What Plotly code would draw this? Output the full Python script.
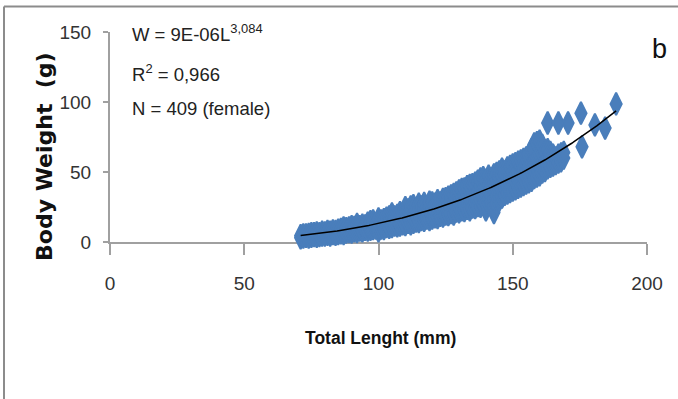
import numpy as np
import plotly.graph_objects as go

# ---- data (total length mm, body weight g) ----
length_mm = [
    71, 71, 72, 72, 73, 73, 74, 74, 75, 75, 76, 76, 77, 77, 77, 78, 78, 79, 79, 80, 80,
    81, 81, 82, 82, 83, 83, 84, 84, 85, 85, 86, 86, 87, 87, 87, 88, 88, 89, 89,
    90, 90, 90, 91, 91, 92, 92, 92, 93, 93, 94, 94, 94, 95, 95, 96, 96, 96,
    97, 97, 97, 98, 98, 98, 99, 99, 100, 100, 100, 100, 101, 101, 101,
    102, 102, 102, 103, 103, 103, 104, 104, 104, 105, 105, 105, 105,
    106, 106, 106, 107, 107, 107, 108, 108, 108, 109, 109, 109,
    110, 110, 110, 110, 111, 111, 111, 112, 112, 112, 113, 113, 113, 113,
    114, 114, 114, 115, 115, 115, 115, 116, 116, 116, 117, 117, 117, 117,
    118, 118, 118, 119, 119, 119, 119, 120, 120, 120, 120, 121, 121, 121,
    122, 122, 122, 122, 123, 123, 123, 124, 124, 124, 124, 125, 125, 125, 125,
    126, 126, 126, 126, 127, 127, 127, 127, 128, 128, 128, 128, 129, 129, 129, 129,
    130, 130, 130, 130, 130, 131, 131, 131, 131, 132, 132, 132, 132, 132,
    133, 133, 133, 133, 134, 134, 134, 134, 134, 135, 135, 135, 135,
    136, 136, 136, 136, 136, 137, 137, 137, 137, 138, 138, 138, 138, 138,
    139, 139, 139, 139, 140, 140, 140, 140, 140, 141, 141, 141, 141, 141,
    142, 142, 142, 142, 143, 143, 143, 143, 143, 143, 144, 144, 144, 144, 144,
    145, 145, 145, 145, 145, 146, 146, 146, 146, 146, 147, 147, 147, 147,
    148, 148, 148, 148, 148, 149, 149, 149, 149, 150, 150, 150, 150, 150,
    151, 151, 151, 151, 151, 152, 152, 152, 152, 153, 153, 153, 153, 153,
    154, 154, 154, 154, 155, 155, 155, 155, 155, 156, 156, 156, 156,
    157, 157, 157, 157, 158, 158, 158, 158, 159, 159, 159, 159,
    160, 160, 160, 160, 161, 161, 161, 161, 162, 162, 162, 163, 163, 163, 163,
    164, 164, 164, 165, 165, 165, 166, 166, 167, 167, 167, 168, 168, 169, 169,
    170.6, 175.4, 175.8, 180.6, 184.4, 188.5,
]
weight_g = [
    3, 4.5, 3.5, 5, 4, 5, 3.5, 5.5, 4, 6, 4.5, 6, 4, 5.5, 6.5, 4.5, 6, 5, 7, 5, 6.5,
    5.5, 7.5, 5, 7, 6, 8, 5.5, 7.5, 6, 8.5, 6.5, 9, 6, 8.5, 10, 7, 9.5, 7.5, 10,
    7, 9, 11, 8, 10.5, 7.5, 10, 12.5, 8.5, 11, 8, 10.5, 12, 9, 11.5, 8.5, 12, 13.5,
    9, 11, 14.5, 9.5, 12.5, 15, 10, 13, 8, 11, 14, 16.5, 10, 13, 15,
    9.5, 12.5, 16, 11, 14, 17, 10.5, 15, 18, 11, 14, 17, 20,
    12, 15.5, 18, 11.5, 16, 19, 12, 17, 21, 13, 16, 20,
    12.5, 17.5, 22, 24.5, 14, 18, 23, 13, 19, 25, 14, 17, 21, 26,
    15, 19, 23, 14.5, 20, 24, 27, 16, 21, 25, 15.5, 19, 23, 27.5,
    17, 21, 25, 16, 22, 26.5, 28.5, 17, 20, 24, 28, 18, 23, 27,
    17.5, 21, 25, 29.5, 19, 24, 28, 18.5, 22, 26, 30.5, 20, 25, 29, 31,
    19.5, 23, 27, 32, 21, 26, 30, 33, 20, 24.5, 28.5, 34, 22, 27, 31, 35,
    21.5, 25, 29, 33, 36.5, 23, 28, 32, 37.5, 22.5, 26.5, 30.5, 35, 38,
    24, 29, 34, 39.5, 23, 27, 31, 36, 40.5, 25, 30, 34.5, 41,
    24.5, 28.5, 33, 38, 42, 26, 31, 36, 43.5, 25.5, 30, 35, 40, 45,
    27, 32.5, 38, 46, 23, 28, 34, 39, 44, 27.5, 31, 36, 41, 47,
    29, 34, 39, 45, 21, 26, 31, 37, 42, 48, 28, 33, 38, 44, 49,
    30, 35, 40, 46, 50, 32, 37, 42, 48, 52, 34, 39, 44, 50,
    35, 40, 46, 51, 53, 36, 42, 47, 54, 37, 41, 45, 50, 55,
    38, 43, 48, 53, 56, 39, 44, 50, 57, 40, 45, 49, 54, 58,
    41, 46, 52, 59, 42, 47, 51, 56, 60, 43, 49, 54, 62,
    44, 50, 56, 66, 46, 52, 58, 70, 47, 53, 60, 71,
    48, 55, 62, 72, 50, 57, 63, 69, 51, 58, 65, 53, 60, 66, 85,
    54, 61, 64, 55, 58, 62, 56, 60, 57, 62, 85, 58, 63, 60, 64,
    85, 92, 68, 83.6, 81.4, 98.6,
]

# power trend line printed on the chart: W = a * L^b
trend_a = 9e-06
trend_b = 3.084

x_ticks = [0, 50, 100, 150, 200]
y_ticks = [0, 50, 100, 150]

eq_lines = ["W = 9E-06L<sup>3,084</sup>", "R<sup>2</sup> = 0,966", "N = 409 (female)"]
x_title = "<b>Total Lenght (mm)</b>"
y_title = "<b>Body Weight  (g)</b>"
panel_label = "b"

# ---- figure ----
W, H = 678, 399
ml, mr, mt, mb = 110, 31, 32, 157
pw, ph = W - ml - mr, H - mt - mb


def px_x(p):
    return (p - ml) / pw


def px_y(p):
    return (H - mb - p) / ph


sans = "Liberation Sans, Arial, sans-serif"

fig = go.Figure()
fig.add_trace(go.Scatter(
    x=length_mm, y=weight_g, mode="markers", cliponaxis=False,
    marker=dict(symbol="diamond-tall", size=16, color="#4A7EBB",
                line=dict(color="#4A7EBB", width=2)),
    showlegend=False, hoverinfo="skip",
))
lx = np.linspace(min(length_mm), max(length_mm), 200)
fig.add_trace(go.Scatter(
    x=lx, y=trend_a * lx ** trend_b, mode="lines", cliponaxis=False,
    line=dict(color="#000000", width=1.5), showlegend=False, hoverinfo="skip",
))

axis_common = dict(showgrid=False, zeroline=False, showline=True, linecolor="#A0A0A0",
                   linewidth=2, ticks="outside", tickcolor="#A0A0A0", tickwidth=2,
                   layer="below traces",
                   tickfont=dict(family=sans, size=19, color="#333333"))
fig.update_xaxes(range=[0, 200], tickvals=x_ticks, ticklen=11, ticklabelstandoff=12,
                 **axis_common)
fig.update_yaxes(range=[0, 150], tickvals=y_ticks, ticklen=5, ticklabelstandoff=8,
                 **axis_common)

ann = []
for i, t in enumerate(eq_lines):
    ann.append(dict(text=t, x=px_x(130), y=px_y([33, 73, 108][i]), xanchor="left",
                    yanchor="middle", showarrow=False,
                    font=dict(family=sans, size=18.5, color="#222222")))
ann.append(dict(text=x_title, x=px_x(380), y=px_y(338), xanchor="center", yanchor="middle",
                showarrow=False, font=dict(family=sans, size=17.5, color="#111111")))
ann.append(dict(text=y_title, x=px_x(44), y=px_y(157), xanchor="center", yanchor="middle",
                textangle=-90, showarrow=False,
                font=dict(family="DejaVu Sans, Verdana, sans-serif", size=22, color="#111111")))
ann.append(dict(text=panel_label, x=px_x(659), y=px_y(49), xanchor="center", yanchor="middle",
                showarrow=False, font=dict(family=sans, size=27, color="#111111")))
for a in ann:
    a.update(xref="paper", yref="paper")

shapes = [
    dict(type="line", xref="paper", yref="paper", x0=px_x(4), x1=px_x(4), y0=px_y(6.5),
         y1=px_y(399), line=dict(color="#8C8C8C", width=2)),
    dict(type="line", xref="paper", yref="paper", x0=px_x(4), x1=px_x(678), y0=px_y(6.5),
         y1=px_y(6.5), line=dict(color="#8C8C8C", width=2)),
]

fig.update_layout(width=W, height=H, autosize=False,
                  margin=dict(l=ml, r=mr, t=mt, b=mb, pad=0),
                  paper_bgcolor="white", plot_bgcolor="white",
                  annotations=ann, shapes=shapes)

fig.write_html("out.html", config={"displayModeBar": False},
               post_script="document.body.style.margin='0';")
